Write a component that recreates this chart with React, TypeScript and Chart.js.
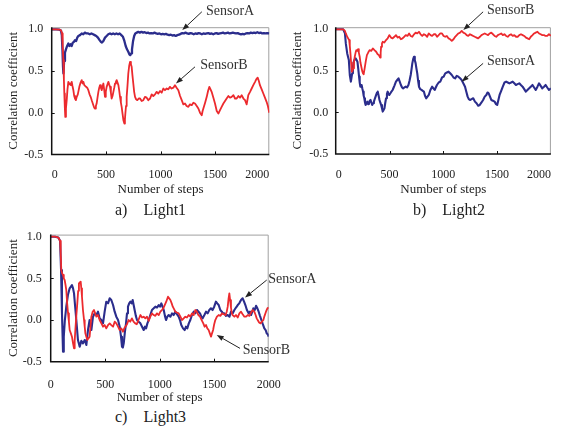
import React, { useEffect, useRef } from 'react';
import { Chart, registerables } from 'chart.js';

Chart.register(...registerables);

// ---------------- data ----------------
const xTicks = [0, 500, 1000, 1500, 2000];
const yTicks = [-0.5, 0, 0.5, 1.0];
const xInnerTicks = [500, 1000, 1500];
const yInnerTicks = [0, 0.5];

const light1SensorA: [number, number][] = [[0,1],[40,1],[70,0.995],[85,0.985],[93,0.93],[99,0.75],[104,0.55],[108,0.47],[114,0.62],[122,0.72],[131,0.76],[142,0.8],[153,0.83],[163,0.8],[174,0.82],[184,0.8],[194,0.84],[204,0.85],[214,0.87],[225,0.86],[235,0.9],[245,0.92],[260,0.93],[276,0.95],[290,0.94],[305,0.96],[320,0.95],[335,0.95],[350,0.94],[365,0.95],[380,0.94],[395,0.93],[410,0.92],[425,0.9],[440,0.87],[452,0.85],[462,0.84],[475,0.86],[490,0.9],[505,0.92],[520,0.94],[536,0.95],[550,0.94],[565,0.95],[580,0.94],[595,0.95],[610,0.94],[625,0.95],[640,0.93],[655,0.91],[668,0.86],[680,0.8],[692,0.76],[704,0.73],[714,0.7],[722,0.69],[730,0.71],[738,0.76],[748,0.86],[758,0.92],[768,0.95],[782,0.96],[796,0.97],[810,0.96],[825,0.97],[840,0.96],[855,0.965],[870,0.955],[885,0.96],[900,0.95],[915,0.955],[930,0.95],[945,0.96],[960,0.95],[975,0.945],[990,0.95],[1005,0.94],[1020,0.945],[1035,0.94],[1050,0.945],[1065,0.935],[1080,0.93],[1095,0.935],[1110,0.925],[1125,0.93],[1140,0.92],[1155,0.93],[1170,0.935],[1185,0.945],[1200,0.955],[1215,0.95],[1230,0.96],[1245,0.95],[1260,0.945],[1275,0.955],[1290,0.95],[1305,0.94],[1320,0.95],[1335,0.945],[1350,0.955],[1365,0.95],[1380,0.94],[1395,0.95],[1410,0.945],[1425,0.95],[1440,0.955],[1455,0.945],[1470,0.95],[1485,0.94],[1500,0.95],[1515,0.955],[1530,0.945],[1545,0.95],[1560,0.955],[1575,0.96],[1590,0.95],[1605,0.955],[1620,0.96],[1635,0.95],[1650,0.955],[1665,0.96],[1680,0.955],[1695,0.95],[1710,0.955],[1725,0.945],[1740,0.94],[1755,0.945],[1770,0.94],[1785,0.95],[1800,0.955],[1815,0.95],[1830,0.96],[1845,0.955],[1860,0.96],[1875,0.955],[1890,0.965],[1905,0.955],[1920,0.96],[1935,0.95],[1950,0.955],[1965,0.95],[1980,0.955],[2000,0.95]];

const light1SensorB: [number, number][] = [[0,1],[40,1],[76,0.995],[88,0.98],[95,0.95],[101,0.8],[107,0.63],[112,0.4],[116,0.23],[121,0.05],[125,-0.05],[131,0.05],[138,0.15],[145,0.28],[153,0.37],[160,0.34],[168,0.35],[176,0.33],[184,0.37],[191,0.32],[199,0.27],[207,0.2],[214,0.17],[222,0.15],[230,0.19],[240,0.22],[254,0.31],[265,0.36],[276,0.39],[284,0.35],[291,0.37],[300,0.33],[316,0.31],[326,0.3],[337,0.27],[348,0.22],[358,0.19],[370,0.14],[383,0.09],[391,0.06],[398,0.05],[406,0.08],[413,0.11],[421,0.18],[429,0.25],[437,0.3],[444,0.33],[452,0.3],[460,0.27],[467,0.31],[475,0.35],[482,0.28],[490,0.19],[497,0.25],[505,0.31],[513,0.34],[521,0.37],[528,0.34],[536,0.31],[544,0.24],[551,0.17],[559,0.2],[567,0.25],[575,0.3],[582,0.35],[590,0.37],[597,0.39],[605,0.36],[613,0.33],[620,0.27],[628,0.19],[636,0.12],[643,0.07],[651,-0.01],[659,-0.09],[668,-0.13],[673,-0.08],[677,-0.01],[683,0.08],[689,0.19],[697,0.33],[704,0.47],[712,0.56],[720,0.61],[728,0.58],[735,0.55],[742,0.45],[750,0.35],[758,0.25],[766,0.19],[776,0.16],[787,0.15],[800,0.17],[812,0.17],[827,0.14],[842,0.15],[857,0.19],[873,0.18],[888,0.15],[904,0.17],[919,0.22],[934,0.2],[950,0.22],[965,0.25],[980,0.23],[996,0.26],[1011,0.24],[1026,0.29],[1041,0.27],[1057,0.29],[1072,0.28],[1087,0.31],[1102,0.29],[1118,0.3],[1133,0.33],[1148,0.3],[1164,0.27],[1180,0.2],[1195,0.15],[1210,0.1],[1225,0.11],[1240,0.08],[1256,0.07],[1271,0.1],[1287,0.09],[1302,0.12],[1317,0.11],[1333,0.08],[1348,0.05],[1363,0],[1379,-0.03],[1387,0.02],[1394,0.05],[1410,0.12],[1425,0.19],[1437,0.26],[1449,0.31],[1460,0.28],[1470,0.25],[1486,0.18],[1501,0.11],[1517,0.02],[1532,-0.01],[1547,0.03],[1562,0.07],[1578,0.11],[1593,0.14],[1608,0.17],[1624,0.2],[1639,0.18],[1654,0.19],[1670,0.21],[1685,0.17],[1700,0.17],[1716,0.2],[1731,0.18],[1746,0.21],[1762,0.17],[1777,0.15],[1792,0.1],[1807,0.21],[1823,0.25],[1838,0.29],[1853,0.33],[1869,0.37],[1880,0.4],[1893,0.42],[1904,0.38],[1914,0.33],[1930,0.28],[1945,0.23],[1960,0.18],[1975,0.13],[1987,0.08],[2000,0]];

const light2SensorA: [number, number][] = [[0,1],[40,1],[70,1],[86,0.95],[94,0.83],[107,0.71],[122,0.63],[131,0.45],[141,0.37],[147,0.42],[153,0.47],[160,0.55],[168,0.61],[177,0.64],[186,0.65],[194,0.63],[202,0.61],[210,0.52],[217,0.43],[223,0.36],[229,0.31],[235,0.33],[241,0.33],[247,0.29],[254,0.25],[260,0.2],[266,0.17],[272,0.12],[278,0.09],[285,0.11],[293,0.13],[301,0.1],[309,0.11],[316,0.14],[324,0.15],[331,0.12],[339,0.09],[347,0.11],[355,0.13],[365,0.17],[376,0.21],[384,0.24],[391,0.25],[399,0.2],[407,0.15],[414,0.12],[422,0.09],[430,0.05],[437,0.01],[445,0.03],[453,0.05],[460,0.11],[468,0.17],[476,0.22],[483,0.25],[490,0.22],[498,0.21],[513,0.24],[529,0.27],[545,0.32],[560,0.37],[572,0.39],[584,0.41],[595,0.37],[606,0.33],[617,0.3],[627,0.29],[639,0.3],[651,0.31],[663,0.3],[676,0.33],[686,0.38],[697,0.45],[705,0.52],[712,0.59],[720,0.64],[728,0.67],[735,0.63],[743,0.59],[750,0.53],[758,0.47],[766,0.38],[774,0.31],[786,0.28],[798,0.27],[809,0.26],[820,0.25],[830,0.2],[841,0.17],[853,0.19],[865,0.21],[880,0.27],[896,0.31],[908,0.29],[920,0.27],[930,0.3],[941,0.33],[957,0.36],[972,0.37],[988,0.42],[1003,0.43],[1018,0.47],[1033,0.48],[1049,0.49],[1064,0.47],[1079,0.45],[1095,0.42],[1110,0.41],[1125,0.44],[1140,0.43],[1156,0.41],[1171,0.39],[1186,0.35],[1202,0.31],[1214,0.25],[1226,0.19],[1237,0.16],[1248,0.15],[1263,0.16],[1278,0.17],[1294,0.13],[1309,0.11],[1324,0.08],[1339,0.09],[1355,0.12],[1370,0.15],[1385,0.19],[1400,0.21],[1411,0.24],[1422,0.23],[1434,0.19],[1446,0.15],[1462,0.14],[1477,0.13],[1490,0.1],[1501,0.09],[1512,0.15],[1523,0.21],[1538,0.26],[1553,0.31],[1569,0.36],[1584,0.37],[1599,0.36],[1614,0.35],[1630,0.36],[1645,0.37],[1660,0.35],[1675,0.33],[1690,0.34],[1706,0.35],[1721,0.33],[1737,0.31],[1752,0.28],[1767,0.25],[1782,0.27],[1798,0.29],[1813,0.31],[1829,0.33],[1844,0.3],[1859,0.27],[1875,0.31],[1890,0.35],[1905,0.32],[1920,0.29],[1936,0.31],[1951,0.33],[1966,0.3],[1982,0.27],[2000,0.29]];

const light2SensorB: [number, number][] = [[0,1],[40,1],[70,1],[86,0.98],[94,0.95],[107,0.91],[125,0.87],[131,0.8],[137,0.71],[143,0.6],[150,0.49],[156,0.5],[162,0.53],[170,0.6],[177,0.67],[185,0.72],[192,0.75],[200,0.74],[208,0.76],[215,0.72],[223,0.67],[230,0.6],[238,0.55],[246,0.5],[254,0.47],[260,0.46],[269,0.53],[280,0.62],[290,0.69],[302,0.72],[315,0.75],[330,0.74],[345,0.77],[360,0.75],[376,0.73],[390,0.7],[401,0.69],[413,0.66],[418,0.72],[422,0.79],[430,0.83],[437,0.85],[452,0.84],[468,0.87],[483,0.89],[498,0.93],[514,0.9],[529,0.89],[545,0.91],[560,0.93],[575,0.9],[590,0.91],[606,0.88],[621,0.89],[636,0.91],[651,0.93],[667,0.92],[682,0.95],[697,0.92],[712,0.91],[728,0.94],[743,0.96],[758,0.95],[774,0.97],[789,0.94],[804,0.92],[820,0.94],[835,0.93],[850,0.91],[865,0.95],[881,0.93],[896,0.92],[911,0.94],[927,0.94],[942,0.91],[957,0.93],[972,0.95],[988,0.95],[1003,0.92],[1018,0.91],[1033,0.92],[1049,0.89],[1064,0.88],[1079,0.86],[1095,0.88],[1110,0.91],[1125,0.93],[1140,0.95],[1156,0.96],[1171,0.98],[1186,0.96],[1202,0.95],[1217,0.93],[1232,0.92],[1248,0.94],[1263,0.93],[1278,0.92],[1293,0.91],[1309,0.9],[1324,0.89],[1340,0.91],[1355,0.93],[1370,0.94],[1385,0.95],[1400,0.94],[1416,0.93],[1431,0.95],[1446,0.96],[1462,0.94],[1477,0.92],[1492,0.91],[1507,0.93],[1523,0.94],[1538,0.95],[1553,0.93],[1568,0.94],[1584,0.92],[1599,0.91],[1614,0.93],[1630,0.94],[1645,0.92],[1660,0.93],[1676,0.91],[1691,0.91],[1706,0.93],[1722,0.94],[1737,0.93],[1752,0.92],[1768,0.9],[1783,0.89],[1798,0.88],[1813,0.91],[1829,0.93],[1844,0.95],[1859,0.96],[1875,0.97],[1890,0.95],[1905,0.94],[1920,0.93],[1936,0.93],[1951,0.92],[1966,0.92],[1982,0.94],[2000,0.92]];

const light3SensorA: [number, number][] = [[0,1],[40,1],[70,0.99],[86,0.95],[95,0.6],[103,0.1],[113,-0.38],[120,-0.2],[130,0],[143,0.16],[158,0.3],[174,0.38],[195,0.42],[205,0.38],[214,0.32],[225,0.15],[235,0],[250,-0.24],[266,-0.32],[281,-0.25],[296,-0.28],[312,-0.24],[327,-0.3],[342,-0.12],[357,0],[373,-0.12],[388,0.04],[404,0.08],[419,0.06],[434,0.1],[449,0.02],[465,0],[480,-0.04],[495,0.1],[510,0.22],[526,0.2],[541,0.26],[556,0.24],[572,0.18],[587,0.1],[602,0.04],[618,0],[633,-0.08],[645,-0.2],[654,-0.32],[662,-0.33],[670,-0.28],[680,-0.15],[691,-0.04],[700,0.08],[709,0.16],[720,0.2],[731,0.22],[742,0.2],[752,0.24],[761,0.18],[770,0.12],[781,0.05],[792,0],[807,-0.02],[823,-0.04],[838,-0.08],[853,-0.12],[865,-0.08],[875,-0.1],[887,-0.04],[899,0],[914,0.06],[929,0.12],[945,0.14],[960,0.16],[975,0.15],[991,0.18],[1003,0.16],[1015,0.2],[1026,0.16],[1037,0.12],[1048,0.05],[1058,0],[1070,0.04],[1083,0.06],[1098,0.04],[1113,0.08],[1128,0.06],[1143,0.1],[1158,0.07],[1174,0.04],[1186,0],[1198,-0.06],[1214,-0.1],[1229,-0.12],[1241,-0.08],[1253,-0.1],[1267,-0.04],[1281,0],[1296,0.06],[1312,0.1],[1327,0.08],[1342,0.12],[1356,0.1],[1370,0.08],[1382,0.04],[1394,0.02],[1410,0.06],[1425,0.1],[1440,0.08],[1455,0.12],[1470,0.14],[1485,0.12],[1500,0.16],[1516,0.22],[1528,0.2],[1541,0.18],[1556,0.12],[1570,0.1],[1580,0.08],[1593,0.08],[1608,0.05],[1624,0.06],[1640,0.04],[1654,0.1],[1670,0.08],[1685,0.12],[1700,0.15],[1716,0.18],[1730,0.2],[1746,0.24],[1761,0.26],[1774,0.22],[1786,0.18],[1800,0.12],[1816,0.08],[1828,0.1],[1838,0.06],[1850,0.1],[1859,0.14],[1872,0.12],[1884,0.17],[1896,0.14],[1908,0.1],[1920,0.05],[1933,0],[1946,-0.05],[1960,-0.1],[1972,-0.12],[1982,-0.16],[1991,-0.17],[2000,-0.2]];

const light3SensorB: [number, number][] = [[0,1],[40,1],[70,0.99],[86,0.95],[92,0.8],[97,0.6],[105,0.56],[113,0.54],[120,0.5],[128,0.48],[136,0.42],[143,0.36],[151,0.2],[159,0.08],[167,-0.02],[174,-0.12],[185,-0.16],[195,-0.2],[205,-0.28],[214,-0.34],[220,-0.25],[226,-0.12],[235,0.05],[244,0.2],[252,0.35],[259,0.44],[267,0.45],[275,0.46],[281,0.38],[287,0.28],[296,0.12],[306,0],[312,-0.08],[318,-0.16],[327,-0.2],[336,-0.24],[346,-0.22],[357,-0.2],[365,-0.08],[373,0.04],[385,0.1],[397,0.12],[408,0.08],[419,0.04],[434,0.06],[449,0],[465,-0.04],[480,-0.08],[495,-0.06],[510,-0.1],[526,-0.06],[541,-0.04],[556,-0.06],[572,-0.08],[587,-0.02],[602,-0.04],[618,-0.08],[633,-0.12],[648,-0.1],[663,-0.14],[675,-0.1],[685,-0.08],[700,-0.05],[715,0],[730,-0.02],[745,0.02],[760,-0.02],[775,-0.04],[790,-0.05],[805,0],[823,0.06],[838,0.03],[853,0.04],[868,0.02],[883,0.04],[899,-0.01],[914,0.04],[929,0.08],[945,0.06],[960,0.05],[975,0.08],[991,0.06],[1006,0.1],[1020,0.12],[1033,0.14],[1046,0.18],[1060,0.22],[1076,0.28],[1087,0.26],[1098,0.24],[1110,0.2],[1120,0.16],[1132,0.13],[1143,0.1],[1158,0.09],[1174,0.08],[1190,0.04],[1205,0],[1220,0.02],[1235,0.04],[1250,0.03],[1266,0.06],[1281,0.04],[1296,0.08],[1312,0.06],[1327,0.12],[1340,0.1],[1355,0.06],[1370,0.04],[1385,0],[1400,-0.04],[1412,-0.08],[1425,-0.06],[1437,-0.1],[1449,-0.12],[1460,-0.16],[1471,-0.2],[1480,-0.16],[1490,-0.12],[1500,-0.05],[1510,0],[1525,0.04],[1541,0.06],[1556,0.05],[1572,0.08],[1588,0.07],[1604,0.06],[1615,0.1],[1624,0.16],[1632,0.26],[1639,0.32],[1646,0.24],[1654,0.15],[1662,0.08],[1669,0.06],[1685,0.04],[1700,0.06],[1716,0.03],[1731,0.08],[1746,0.1],[1761,0.07],[1777,0.04],[1792,0.04],[1808,0.06],[1823,0.05],[1838,0.09],[1853,0.12],[1868,0.1],[1880,0.06],[1890,0.02],[1899,0],[1912,-0.03],[1925,-0.04],[1938,-0.02],[1951,0],[1962,0.05],[1975,0.1],[1988,0.14],[2000,0.15]];

// annotation anchors (data units): [tip step, tip value, tail step, tail value, text step, text value]
const light1Notes: [string, number[]][] = [
  ['SensorA', [1200, 0.99, 1380, 1.21, 1418, 1.22]],
  ['SensorB', [1142, 0.35, 1317, 0.55, 1365, 0.57]],
];
const light2Notes: [string, number[]][] = [
  ['SensorB', [1186, 0.99, 1370, 1.21, 1406, 1.23]],
  ['SensorA', [1171, 0.37, 1370, 0.59, 1406, 0.61]],
];
const light3Notes: [string, number[]][] = [
  ['SensorA', [1783, 0.27, 1982, 0.48, 1996, 0.49]],
  ['SensorB', [1523, -0.18, 1737, -0.34, 1761, -0.36]],
];

// ---------------- styles ----------------
const FONT = "'Liberation Serif', 'Times New Roman', serif";
const TEXT = '#222';
const BLUE = '#2b2d8c';
const RED = '#ec2a2e';

const decorPlugin = {
  id: 'decor',
  beforeDatasetsDraw(chart: any) {
    const { ctx, chartArea: a } = chart;
    ctx.save();
    ctx.strokeStyle = '#a0a0a0';
    ctx.lineWidth = 1;
    ctx.beginPath();
    ctx.moveTo(a.left, a.top + 0.5);
    ctx.lineTo(a.right - 0.5, a.top + 0.5);
    ctx.lineTo(a.right - 0.5, a.bottom);
    ctx.stroke();
    ctx.restore();
  },
  afterDatasetsDraw(chart: any, _args: any, opts: any) {
    const { ctx, chartArea: a, scales } = chart;
    const xs = scales.x;
    const ys = scales.y;
    ctx.save();
    ctx.strokeStyle = '#111';
    ctx.lineWidth = 1.5;
    ctx.beginPath();
    ctx.moveTo(a.left, a.top);
    ctx.lineTo(a.left, a.bottom);
    ctx.lineTo(a.right, a.bottom);
    ctx.stroke();
    ctx.lineWidth = 1;
    ctx.beginPath();
    xInnerTicks.forEach((v) => {
      const px = Math.round(xs.getPixelForValue(v)) + 0.5;
      ctx.moveTo(px, a.bottom);
      ctx.lineTo(px, a.bottom - 3);
    });
    yInnerTicks.forEach((v) => {
      const py = Math.round(ys.getPixelForValue(v)) + 0.5;
      ctx.moveTo(a.left, py);
      ctx.lineTo(a.left + 3, py);
    });
    ctx.stroke();

    const notes: [string, number[]][] = opts.notes || [];
    notes.forEach(([label, p]) => {
      const tx = xs.getPixelForValue(p[0]);
      const ty = ys.getPixelForValue(p[1]);
      const sx = xs.getPixelForValue(p[2]);
      const sy = ys.getPixelForValue(p[3]);
      const lx = xs.getPixelForValue(p[4]);
      const ly = ys.getPixelForValue(p[5]);
      const ang = Math.atan2(ty - sy, tx - sx);
      const hl = 7;
      const hw = 2.6;
      const bx = tx - hl * Math.cos(ang);
      const by = ty - hl * Math.sin(ang);
      ctx.strokeStyle = '#222';
      ctx.fillStyle = '#222';
      ctx.lineWidth = 1;
      ctx.beginPath();
      ctx.moveTo(sx, sy);
      ctx.lineTo(bx, by);
      ctx.stroke();
      ctx.beginPath();
      ctx.moveTo(tx, ty);
      ctx.lineTo(bx + hw * Math.sin(ang), by - hw * Math.cos(ang));
      ctx.lineTo(bx - hw * Math.sin(ang), by + hw * Math.cos(ang));
      ctx.closePath();
      ctx.fill();
      ctx.font = `14px ${FONT}`;
      ctx.fillStyle = '#333';
      ctx.textAlign = 'left';
      ctx.textBaseline = 'middle';
      ctx.fillText(label, lx, ly);
    });
    ctx.restore();
  },
};

type Panel = {
  left: number; top: number; width: number; height: number;
  padTop: number; padRight: number; yWidth: number; xHeight: number;
  xTickPad: number; yTickPad: number; yTitlePad: number; xTitlePad: number;
  align: 'inner' | 'center';
  series: { points: [number, number][]; color: string; width: number }[];
  notes: [string, number[]][];
};

const panels: Panel[] = [
  {
    left: 0, top: 0, width: 285, height: 200, padTop: 27.2, padRight: 15.7,
    yWidth: 51.7, xHeight: 45.6, xTickPad: 13.7, yTickPad: 8.4, yTitlePad: 6.2, xTitlePad: 2.4,
    align: 'inner',
    series: [
      { points: light1SensorB, color: RED, width: 1.8 },
      { points: light1SensorA, color: BLUE, width: 2.3 },
    ],
    notes: light1Notes,
  },
  {
    left: 285, top: 0, width: 280, height: 200, padTop: 27.2, padRight: 11.3,
    yWidth: 50.7, xHeight: 46, xTickPad: 14.1, yTickPad: 7.4, yTitlePad: 5, xTitlePad: 2.4,
    align: 'inner',
    series: [
      { points: light2SensorB, color: RED, width: 1.8 },
      { points: light2SensorA, color: BLUE, width: 2.1 },
    ],
    notes: light2Notes,
  },
  {
    left: 0, top: 215, width: 330, height: 190, padTop: 19.6, padRight: 61.3,
    yWidth: 50.7, xHeight: 43.3, xTickPad: 16, yTickPad: 9, yTitlePad: 6, xTitlePad: 0,
    align: 'center',
    series: [
      { points: light3SensorB, color: RED, width: 1.8 },
      { points: light3SensorA, color: BLUE, width: 2.1 },
    ],
    notes: light3Notes,
  },
];

const captions = [
  { text: 'a)\u3000Light1', left: 115, top: 201 },
  { text: 'b)\u3000Light2', left: 413, top: 201 },
  { text: 'c)\u3000Light3', left: 115, top: 408 },
];

function ChartPanel({ p }: { p: Panel }) {
  const ref = useRef<HTMLCanvasElement | null>(null);
  useEffect(() => {
    if (!ref.current) return;
    const chart = new Chart(ref.current, {
      type: 'line',
      data: {
        datasets: p.series.map((s) => ({
          data: s.points.map(([x, y]) => ({ x, y })),
          borderColor: s.color,
          borderWidth: s.width,
          borderJoinStyle: 'round',
          pointRadius: 0,
          fill: false,
          tension: 0,
        })),
      },
      options: {
        responsive: false,
        animation: false,
        devicePixelRatio: 1,
        layout: { padding: { top: p.padTop, right: p.padRight, left: 0, bottom: 0 } },
        plugins: {
          legend: { display: false },
          tooltip: { enabled: false },
          decor: { notes: p.notes },
        } as any,
        scales: {
          x: {
            type: 'linear',
            min: 0,
            max: 2000,
            grid: { display: false, drawTicks: false },
            border: { display: false },
            afterBuildTicks: (s: any) => { s.ticks = xTicks.map((v) => ({ value: v })); },
            afterFit: (s: any) => { s.height = p.xHeight; },
            ticks: {
              font: { family: FONT, size: 12 },
              color: TEXT,
              padding: p.xTickPad,
              align: p.align,
              autoSkip: false,
              maxRotation: 0,
              callback: (v: any) => String(v),
            },
            title: {
              display: true,
              text: 'Number of steps',
              font: { family: FONT, size: 13 },
              color: TEXT,
              padding: { top: 0, bottom: p.xTitlePad },
            },
          },
          y: {
            type: 'linear',
            min: -0.5,
            max: 1.025,
            grid: { display: false, drawTicks: false },
            border: { display: false },
            afterBuildTicks: (s: any) => { s.ticks = yTicks.map((v) => ({ value: v })); },
            afterFit: (s: any) => { s.width = p.yWidth; },
            ticks: {
              font: { family: FONT, size: 12 },
              color: TEXT,
              padding: p.yTickPad,
              callback: (v: any) => Number(v).toFixed(1),
            },
            title: {
              display: true,
              text: 'Correlation coefficient',
              font: { family: FONT, size: 13 },
              color: TEXT,
              padding: { top: p.yTitlePad, bottom: 0 },
            },
          },
        },
      } as any,
      plugins: [decorPlugin],
    });
    return () => chart.destroy();
  }, [p]);
  return (
    <div style={{ position: 'absolute', left: p.left, top: p.top, width: p.width, height: p.height }}>
      <canvas ref={ref} width={p.width} height={p.height} style={{ display: 'block', width: p.width, height: p.height }} />
    </div>
  );
}

export default function App() {
  return (
    <div style={{ position: 'absolute', left: 0, top: 0, width: 565, height: 429, background: '#fff', overflow: 'hidden' }}>
      {panels.map((p, i) => (
        <ChartPanel key={i} p={p} />
      ))}
      {captions.map((c, i) => (
        <div
          key={i}
          style={{
            position: 'absolute', left: c.left, top: c.top, fontFamily: FONT, fontSize: 16,
            lineHeight: '18px', color: TEXT, whiteSpace: 'pre',
          }}
        >
          {c.text}
        </div>
      ))}
    </div>
  );
}
